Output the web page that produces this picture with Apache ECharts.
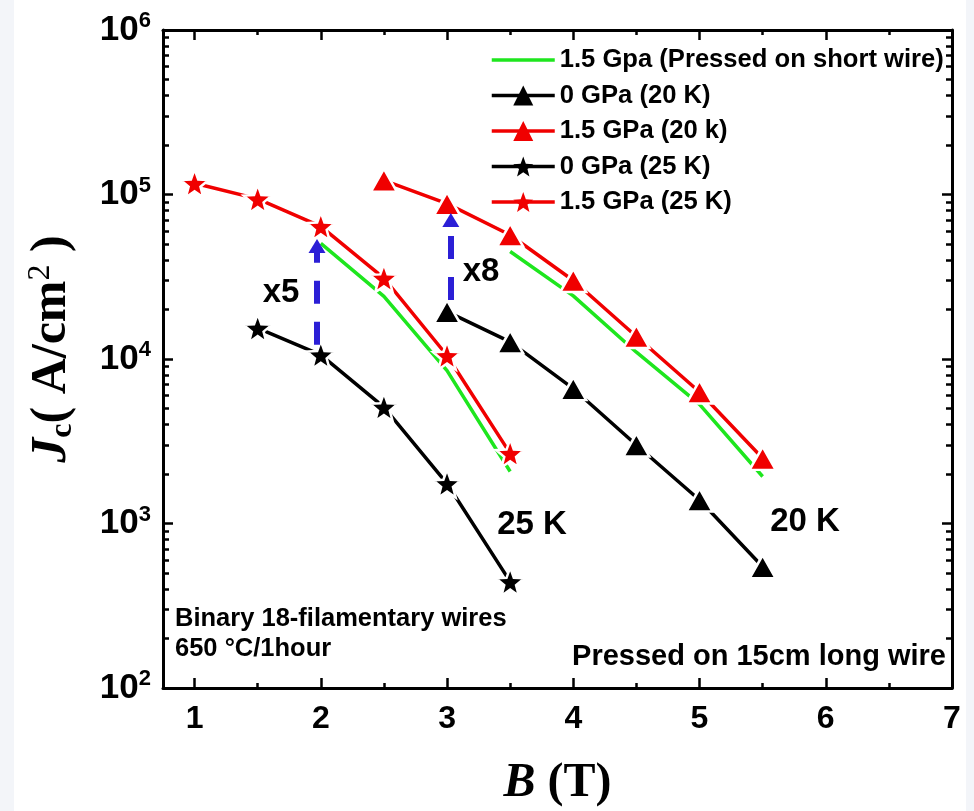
<!DOCTYPE html>
<html><head><meta charset="utf-8">
<script src="https://cdn.jsdelivr.net/npm/echarts@6/dist/echarts.min.js"></script>
<style>html,body{margin:0;padding:0;background:#fff}#c{width:974px;height:811px}</style>
</head><body><div id="c"></div>
<script>
// ---- data ----
const seriesNames = ['1.5 Gpa (Pressed on short wire)', '0 GPa (20 K)', '1.5 GPa (20 k)', '0 GPa (25 K)', '1.5 GPa (25 K)'];

const shortWireB25 = [2, 2.5, 3, 3.5];
const shortWireJc25 = [50500, 24000, 8500, 2070];
const shortWireB20 = [3.5, 4, 4.5, 5, 5.5];
const shortWireJc20 = [45000, 24200, 11000, 5300, 1930];

const b0GPa20K = [3, 3.5, 4, 4.5, 5, 5.5];
const jc0GPa20K = [19400, 12700, 6600, 3000, 1390, 546];

const b15GPa20K = [2.5, 3, 3.5, 4, 4.5, 5, 5.5];
const jc15GPa20K = [122000, 88000, 56700, 30000, 13700, 6300, 2490];

const b0GPa25K = [1.5, 2, 2.5, 3, 3.5];
const jc0GPa25K = [15400, 10600, 5100, 1750, 443];

const b15GPa25K = [1, 1.5, 2, 2.5, 3, 3.5];
const jc15GPa25K = [117000, 94000, 64000, 31000, 10500, 2670];

const arrowB = [1.97, 3.03];
const arrowFromJc = [12200, 22800];
const arrowToJc = [48600, 70000];

const xTickLabels = [1, 2, 3, 4, 5, 6, 7];
const xMinorTicks = [1.5, 2.5, 3.5, 4.5, 5.5, 6.5];
const yDecadeExponents = [2, 3, 4, 5, 6];
const yMinorMultipliers = [2, 3, 4, 5, 6, 7, 8, 9];

// ---- helpers ----
const zip = (xs, ys) => xs.map((x, i) => [x, ys[i]]);
const FONT = 'Liberation Sans, Arial, sans-serif';
const SERIF = 'Liberation Serif, Times New Roman, serif';
const RED = '#f00000', BLACK = '#000000', GREEN = '#1ee61e', BLUE = '#2b1fd6';
const STAR = 'path://M0,-10 L2.47,-3.4 L9.51,-3.09 L4.0,1.3 L5.88,8.09 L0,4.2 L-5.88,8.09 L-4.0,1.3 L-9.51,-3.09 L-2.47,-3.4 Z';
const BAR = 'path://M0,0 L100,0 L100,5.5 L0,5.5 Z';

const yMinorLog = [];
yDecadeExponents.slice(0, -1).forEach(e => yMinorMultipliers.forEach(m => yMinorLog.push(Math.log10(m * Math.pow(10, e)))));

const tickStyle = {color: '#000', width: 2.5};
function xAxisDef(pos, ticks, len, withLine, withLabels) {
  return {
    type: 'value', min: 0.75, max: 7, position: pos,
    axisLine: {show: withLine, onZero: false, lineStyle: {color: '#000', width: 3}},
    axisTick: {show: true, inside: true, length: len, customValues: ticks, lineStyle: tickStyle},
    axisLabel: withLabels ? {show: true, customValues: xTickLabels, margin: 15, color: '#000',
      fontFamily: FONT, fontWeight: 'bold', fontSize: 32} : {show: false},
    splitLine: {show: false}
  };
}
function yMinorDef(pos) {
  return {
    type: 'value', min: 2, max: 6, position: pos,
    axisLine: {show: false},
    axisTick: {show: true, inside: true, length: 6, customValues: yMinorLog, lineStyle: tickStyle},
    axisLabel: {show: false}, splitLine: {show: false}
  };
}
function yMajorDef(pos, withLabels) {
  return {
    type: 'log', logBase: 10, min: 100, max: 1e6, position: pos,
    axisLine: {show: true, onZero: false, lineStyle: {color: '#000', width: 3}},
    axisTick: {show: true, inside: true, length: 10, lineStyle: tickStyle},
    minorTick: {show: false},
    axisLabel: withLabels ? {
      show: true, margin: 12,
      formatter: v => '{b|10}{s|' + Math.round(Math.log10(v)) + '}',
      rich: {
        b: {fontFamily: FONT, fontWeight: 'bold', fontSize: 35, color: '#000', lineHeight: 40, verticalAlign: 'middle'},
        s: {fontFamily: FONT, fontWeight: 'bold', fontSize: 22, color: '#000', verticalAlign: 'top', lineHeight: 22}
      }
    } : {show: false},
    splitLine: {show: false}
  };
}

const xAxes = [
  xAxisDef('bottom', xTickLabels, 10, true, true),
  xAxisDef('bottom', xMinorTicks, 5, false, false),
  xAxisDef('top', xTickLabels, 10, true, false),
  xAxisDef('top', xMinorTicks, 5, false, false)
];
xAxes[0].name = '{bi|B}{t| (T)}';
xAxes[0].nameLocation = 'middle';
xAxes[0].nameGap = 72;
xAxes[0].nameTextStyle = {rich: {
  bi: {fontFamily: SERIF, fontStyle: 'italic', fontWeight: 'bold', fontSize: 48, color: '#000'},
  t: {fontFamily: SERIF, fontWeight: 'bold', fontSize: 48, color: '#000'}
}};

const yAxes = [
  yMajorDef('left', true),
  yMinorDef('left'),
  yMajorDef('right', false),
  yMinorDef('right')
];
yAxes[0].name = '{j|J}{sub|c}{t|( A/cm}{sup|2}{t| )}';
yAxes[0].nameLocation = 'middle';
yAxes[0].nameRotate = 90;
yAxes[0].nameGap = 84;
yAxes[0].nameTextStyle = {padding: [0, 0, 0, 20], rich: {
  j: {fontFamily: SERIF, fontStyle: 'italic', fontWeight: 'bold', fontSize: 50, color: '#000', lineHeight: 54, verticalAlign: 'middle'},
  sub: {fontFamily: SERIF, fontWeight: 'bold', fontSize: 32, color: '#000', verticalAlign: 'bottom', lineHeight: 30},
  t: {fontFamily: SERIF, fontWeight: 'bold', fontSize: 50, color: '#000', lineHeight: 54, verticalAlign: 'middle'},
  sup: {fontFamily: SERIF, fontSize: 32, color: '#000', verticalAlign: 'top', lineHeight: 30}
}};

function markerSeries(name, xs, ys, color, symbol, size) {
  return {
    name, type: 'line', data: zip(xs, ys), symbol, symbolSize: size,
    lineStyle: {color, width: 3.5}, itemStyle: {color, borderColor: '#fff', borderWidth: 2.5},
    z: 3
  };
}

const arrowLines = arrowB.map((b, i) => [{coord: [b, arrowFromJc[i]]}, {coord: [b, arrowToJc[i]]}]);

const series = [
  {name: seriesNames[0], type: 'line', data: zip(shortWireB25, shortWireJc25), symbol: 'none',
   lineStyle: {color: GREEN, width: 3.5}, itemStyle: {color: GREEN}, z: 2},
  {name: seriesNames[0], type: 'line', data: zip(shortWireB20, shortWireJc20), symbol: 'none',
   lineStyle: {color: GREEN, width: 3.5}, itemStyle: {color: GREEN}, z: 2},
  markerSeries(seriesNames[1], b0GPa20K, jc0GPa20K, BLACK, 'triangle', [26, 23]),
  markerSeries(seriesNames[2], b15GPa20K, jc15GPa20K, RED, 'triangle', [26, 23]),
  markerSeries(seriesNames[3], b0GPa25K, jc0GPa25K, BLACK, STAR, 28),
  markerSeries(seriesNames[4], b15GPa25K, jc15GPa25K, RED, STAR, 28)
];
series[5].markLine = {
  silent: true, animation: false,
  symbol: ['none', 'triangle'], symbolSize: [17, 14],
  label: {show: false},
  lineStyle: {color: BLUE, width: 6, type: [23, 18], opacity: 1},
  emphasis: {disabled: true},
  data: arrowLines
};

const txt = (text, x, y, size, align, vAlign) => ({
  type: 'text', x, y, z: 10,
  style: {text, fill: '#000', font: 'bold ' + size + 'px ' + FONT, textAlign: align, textVerticalAlign: vAlign || 'middle'}
});

const option = {
  animation: false,
  backgroundColor: '#ffffff',
  grid: {left: 163, right: 22, top: 30, bottom: 123, containLabel: false, outerBoundsMode: 'none'},
  legend: {
    orient: 'vertical', left: 490, top: 47, padding: 0,
    itemWidth: 63, itemHeight: 25, itemGap: 9.5,
    selectedMode: false,
    lineStyle: {width: 3.5},
    itemStyle: {borderWidth: 0},
    textStyle: {fontFamily: FONT, fontWeight: 'bold', fontSize: 25.6, color: '#000'},
    data: [{name: seriesNames[0], icon: BAR}, seriesNames[1], seriesNames[2], seriesNames[3], seriesNames[4]]
  },
  xAxis: xAxes,
  yAxis: yAxes,
  series,
  graphic: [
    {type: 'rect', shape: {x: 0, y: 0, width: 14, height: 811}, style: {fill: '#f3f5f9'}, z: -1},
    {type: 'rect', shape: {x: 966, y: 0, width: 8, height: 811}, style: {fill: '#f3f5f9'}, z: -1},
    txt('x5', 281, 293, 33, 'center'),
    txt('x8', 481, 272, 33, 'center'),
    txt('25 K', 532, 525, 33, 'center'),
    txt('20 K', 805, 522, 33, 'center'),
    txt('Binary 18-filamentary wires', 175, 619, 25.5, 'left'),
    txt('650 \u00B0C/1hour', 175, 649, 25.5, 'left'),
    txt('Pressed on 15cm long wire', 946, 657, 29, 'right')
  ]
};
const chart = echarts.init(document.getElementById('c'));
chart.setOption(option);
</script>
</body></html>
